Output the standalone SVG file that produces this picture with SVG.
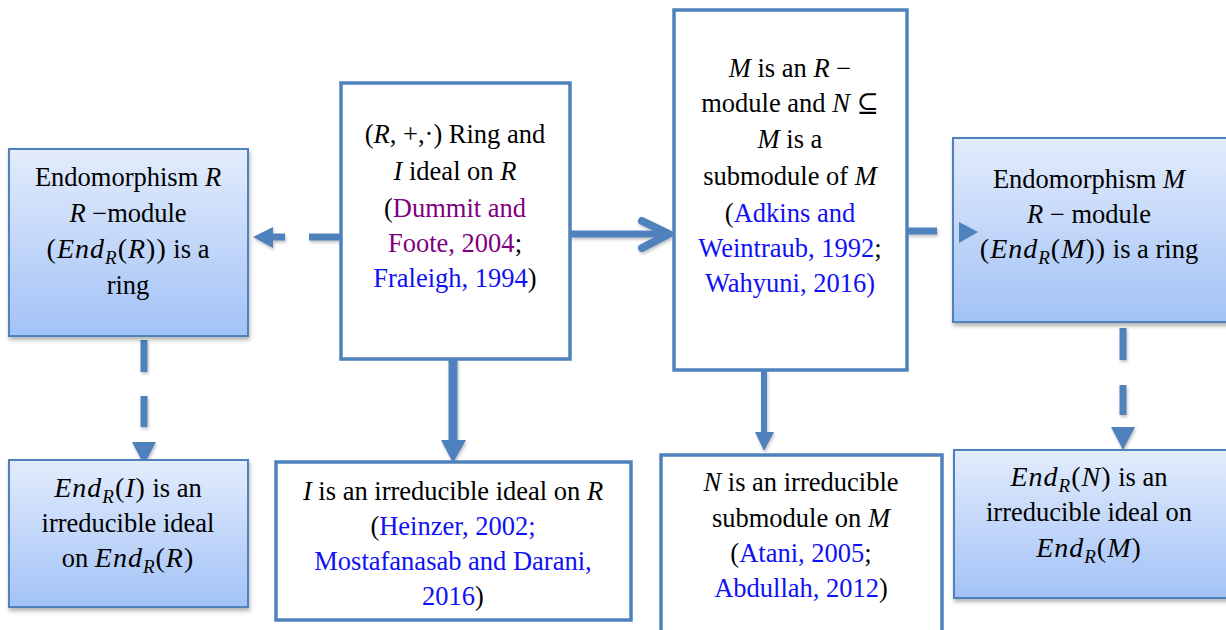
<svg xmlns="http://www.w3.org/2000/svg" width="1226" height="630" viewBox="0 0 1226 630">
<defs>
<linearGradient id="bg" x1="0" y1="0" x2="0" y2="1">
<stop offset="0" stop-color="#E3ECFC"/>
<stop offset="1" stop-color="#A2C2F6"/>
</linearGradient>
<filter id="sh" x="-10%" y="-10%" width="120%" height="125%">
<feDropShadow dx="1" dy="3" stdDeviation="2" flood-color="#000" flood-opacity="0.3"/>
</filter>
<filter id="ash" x="-30%" y="-30%" width="160%" height="160%">
<feDropShadow dx="1" dy="2" stdDeviation="1.5" flood-color="#000" flood-opacity="0.25"/>
</filter>
</defs>
<style>
.blue{fill:url(#bg);stroke:#4F81BD;stroke-width:2;filter:url(#sh)}
.white{fill:#fff;stroke:#4F81BD;stroke-width:3.5}
text{font-family:'Liberation Serif','Tinos','Times New Roman','DejaVu Serif',serif;font-size:26.5px;font-weight:normal;font-style:normal;fill:#000;text-anchor:middle}
.i{font-style:italic}
.m{font-size:28px;letter-spacing:1px}
.s{font-size:19px;font-style:italic}
.b{fill:#1010F5}
.p{fill:#800080}
.ln{stroke:#4F81BD;fill:none}
.ah{fill:#4F81BD}
</style>

<g id="connectors" filter="url(#ash)">
<line class="ln" x1="341" y1="237" x2="309" y2="237" stroke-width="7"/>
<line class="ln" x1="285" y1="237" x2="270" y2="237" stroke-width="7"/>
<polygon class="ah" points="253,237 273,227 273,248"/>
<line class="ln" x1="570" y1="234" x2="668" y2="234" stroke-width="7"/>
<polyline class="ln" points="642,221 669,234 642,248" stroke-width="8" stroke-linecap="round" stroke-linejoin="round"/>
<line class="ln" x1="907" y1="231" x2="937" y2="231" stroke-width="7"/>
<line class="ln" x1="144" y1="340" x2="144" y2="372" stroke-width="7"/>
<line class="ln" x1="144" y1="396" x2="144" y2="427" stroke-width="7"/>
<polygon class="ah" points="132,442 156,442 144,465"/>
<line class="ln" x1="453" y1="359" x2="453" y2="442" stroke-width="9"/>
<polygon class="ah" points="441,440 466,440 453,463"/>
<line class="ln" x1="764" y1="370" x2="764" y2="434" stroke-width="6"/>
<polygon class="ah" points="755,432 774,432 764,451"/>
<line class="ln" x1="1123" y1="328" x2="1123" y2="360" stroke-width="7"/>
<line class="ln" x1="1123" y1="385" x2="1123" y2="415" stroke-width="7"/>
<polygon class="ah" points="1111,427 1135,427 1123,450"/>
</g>

<g id="n1">
<rect class="blue" x="9" y="149" width="239" height="187"/>
<text x="128" y="186">Endomorphism <tspan class="i">R</tspan></text>
<text x="128" y="222"><tspan class="i">R</tspan> −module</text>
<text x="128" y="258"><tspan class="m">(<tspan class="i">End</tspan><tspan class="s" dy="6">R</tspan><tspan dy="-6">(</tspan><tspan class="i">R</tspan>))</tspan> is a</text>
<text x="128" y="294">ring</text>
</g>

<g id="n2">
<rect class="white" x="341" y="83" width="229" height="276"/>
<text x="455" y="143">(<tspan class="i">R</tspan>, +,·) Ring and</text>
<text x="455" y="180"><tspan class="i">I</tspan> ideal on <tspan class="i">R</tspan></text>
<text x="455" y="217">(<tspan class="p">Dummit and</tspan></text>
<text x="455" y="252"><tspan class="p">Foote, 2004</tspan>;</text>
<text x="455" y="287"><tspan class="b">Fraleigh, 1994</tspan>)</text>
</g>

<g id="n3">
<rect class="white" x="674" y="10" width="233" height="360"/>
<text x="790" y="77"><tspan class="i">M</tspan> is an <tspan class="i">R</tspan> −</text>
<text x="790" y="112">module and <tspan class="i">N</tspan> ⊆</text>
<text x="790" y="148"><tspan class="i">M</tspan> is a</text>
<text x="790" y="185">submodule of <tspan class="i">M</tspan></text>
<text x="790" y="222">(<tspan class="b">Adkins and</tspan></text>
<text x="790" y="257"><tspan class="b">Weintraub, 1992</tspan>;</text>
<text x="790" y="292"><tspan class="b">Wahyuni, 2016)</tspan></text>
</g>

<g id="n4">
<rect class="blue" x="953" y="138" width="280" height="184"/>
<polygon class="ah" points="959,222 978,232 959,243"/>
<text x="1089" y="188">Endomorphism <tspan class="i">M</tspan></text>
<text x="1089" y="223"><tspan class="i">R</tspan> − module</text>
<text x="1089" y="258"><tspan class="m">(<tspan class="i">End</tspan><tspan class="s" dy="6">R</tspan><tspan dy="-6">(</tspan><tspan class="i">M</tspan>))</tspan> is a ring</text>
</g>

<g id="n5">
<rect class="blue" x="9" y="460" width="239" height="147"/>
<text x="128" y="497"><tspan class="m"><tspan class="i">End</tspan><tspan class="s" dy="6">R</tspan><tspan dy="-6">(</tspan><tspan class="i">I</tspan>)</tspan> is an</text>
<text x="128" y="532">irreducible ideal</text>
<text x="128" y="567">on <tspan class="m"><tspan class="i">End</tspan><tspan class="s" dy="6">R</tspan><tspan dy="-6">(</tspan><tspan class="i">R</tspan>)</tspan></text>
</g>

<g id="n6">
<rect class="white" x="276" y="462" width="355" height="158"/>
<text x="453" y="500"><tspan class="i">I</tspan> is an irreducible ideal on <tspan class="i">R</tspan></text>
<text x="453" y="535">(<tspan class="b">Heinzer, 2002;</tspan></text>
<text x="453" y="570"><tspan class="b">Mostafanasab and Darani,</tspan></text>
<text x="453" y="605"><tspan class="b">2016</tspan>)</text>
</g>

<g id="n7">
<rect class="white" x="661" y="455" width="281" height="185"/>
<text x="801" y="491"><tspan class="i">N</tspan> is an irreducible</text>
<text x="801" y="527">submodule on <tspan class="i">M</tspan></text>
<text x="801" y="562">(<tspan class="b">Atani, 2005</tspan>;</text>
<text x="801" y="597"><tspan class="b">Abdullah, 2012</tspan>)</text>
</g>

<g id="n8">
<rect class="blue" x="954" y="450" width="280" height="148"/>
<text x="1089" y="486"><tspan class="m"><tspan class="i">End</tspan><tspan class="s" dy="6">R</tspan><tspan dy="-6">(</tspan><tspan class="i">N</tspan>)</tspan> is an</text>
<text x="1089" y="521">irreducible ideal on</text>
<text x="1089" y="557"><tspan class="m"><tspan class="i">End</tspan><tspan class="s" dy="6">R</tspan><tspan dy="-6">(</tspan><tspan class="i">M</tspan>)</tspan></text>
</g>
</svg>
